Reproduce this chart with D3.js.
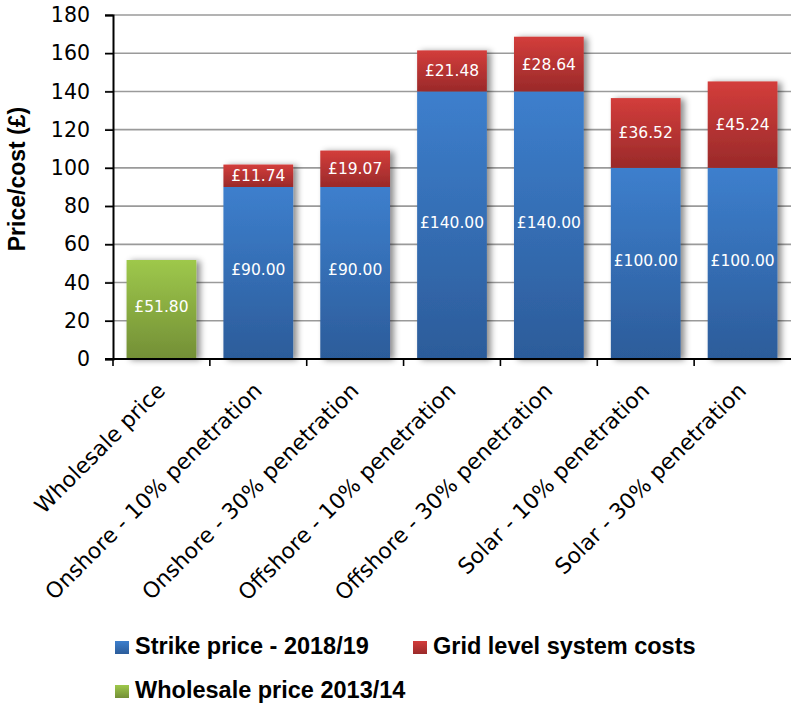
<!DOCTYPE html>
<html>
<head>
<meta charset="utf-8">
<script src="https://cdn.jsdelivr.net/npm/d3@7"></script>
<style>
  html, body { margin: 0; padding: 0; background: #fff; }
  svg { display: block; }
</style>
</head>
<body>
<svg id="chart" width="791" height="707"></svg>
<script>
const categories = [
  "Wholesale price",
  "Onshore - 10% penetration",
  "Onshore - 30% penetration",
  "Offshore - 10% penetration",
  "Offshore - 30% penetration",
  "Solar - 10% penetration",
  "Solar - 30% penetration"
];
const wholesalePrice = [51.80, 0, 0, 0, 0, 0, 0];
const strikePrice = [0, 90.00, 90.00, 140.00, 140.00, 100.00, 100.00];
const gridCosts = [0, 11.74, 19.07, 21.48, 28.64, 36.52, 45.24];
const yTicks = [0, 20, 40, 60, 80, 100, 120, 140, 160, 180];
const seriesNames = ["Strike price - 2018/19", "Grid level system costs", "Wholesale price 2013/14"];

const svg = d3.select("#chart");
const W = 791, H = 707;
const x = d3.scaleBand().domain(categories).range([113, 791]).paddingInner(0.28).paddingOuter(0.14);
const y = d3.scaleLinear().domain([0, 180]).range([359, 15]);

const defs = svg.append("defs");
function grad(id, top, bottom) {
  const g = defs.append("linearGradient").attr("id", id).attr("x1", 0).attr("y1", 0).attr("x2", 0).attr("y2", 1);
  g.append("stop").attr("offset", "0%").attr("stop-color", top);
  g.append("stop").attr("offset", "100%").attr("stop-color", bottom);
}
grad("gBlue", "#3d7fcd", "#2c5c9a");
grad("gRed", "#d33d3b", "#9a2a2a");
grad("gGreen", "#9ec84b", "#738f36");
const f = defs.append("filter").attr("id", "shadow").attr("x", "-20%").attr("y", "-20%").attr("width", "150%").attr("height", "140%");
f.append("feDropShadow").attr("dx", 4).attr("dy", 1).attr("stdDeviation", 3).attr("flood-color", "#000").attr("flood-opacity", 0.45);

// gridlines
svg.append("g").selectAll("line").data(yTicks.filter(d => d > 0)).join("line")
  .attr("x1", 105).attr("x2", W).attr("y1", d => y(d)).attr("y2", d => y(d))
  .attr("stroke", "#9a9a9a").attr("stroke-width", 1.6);

// y axis
const yAxis = svg.append("g").attr("transform", "translate(113,0)")
  .call(d3.axisLeft(y).tickValues(yTicks).tickSize(8).tickPadding(15).tickFormat(d3.format("d")));
yAxis.select(".domain").attr("stroke", "#000").attr("stroke-width", 2);
yAxis.selectAll(".tick line").attr("stroke", "#000").attr("stroke-width", 1.6);
yAxis.selectAll("text").attr("font-family", "DejaVu Sans").attr("font-size", 20.5).attr("fill", "#000");

// bars
const rows = categories.map((c, i) => ({c, w: wholesalePrice[i], s: strikePrice[i], g: gridCosts[i]}));
const bars = svg.append("g");
const fmt = v => "£" + d3.format(".2f")(v);
rows.forEach(r => {
  const bx = x(r.c), bw = x.bandwidth();
  const grp = bars.append("g").attr("filter", "url(#shadow)");
  if (r.w > 0) {
    grp.append("rect").attr("x", bx).attr("width", bw).attr("y", y(r.w)).attr("height", y(0) - y(r.w)).attr("fill", "url(#gGreen)");
  }
  if (r.s > 0) {
    grp.append("rect").attr("x", bx).attr("width", bw).attr("y", y(r.s)).attr("height", y(0) - y(r.s)).attr("fill", "url(#gBlue)");
  }
  if (r.g > 0) {
    grp.append("rect").attr("x", bx).attr("width", bw).attr("y", y(r.s + r.g)).attr("height", y(r.s) - y(r.s + r.g)).attr("fill", "url(#gRed)");
  }
});
// value labels
const lbl = svg.append("g").attr("font-family", "DejaVu Sans").attr("font-size", 15.5).attr("fill", "#fff").attr("text-anchor", "middle");
rows.forEach(r => {
  const cx = x(r.c) + x.bandwidth() / 2;
  if (r.w > 0) lbl.append("text").attr("x", cx).attr("y", (y(0) + y(r.w)) / 2 - 3).attr("dy", "0.35em").text(fmt(r.w));
  if (r.s > 0) lbl.append("text").attr("x", cx).attr("y", (y(0) + y(r.s)) / 2 - 3).attr("dy", "0.35em").text(fmt(r.s));
  if (r.g > 0) lbl.append("text").attr("x", cx).attr("y", (y(r.s) + y(r.s + r.g)) / 2).attr("dy", "0.35em").text(fmt(r.g));
});

// x axis
const xAxisG = svg.append("g").attr("transform", "translate(0,359)");
xAxisG.append("line").attr("x1", 105).attr("x2", W).attr("y1", 0).attr("y2", 0).attr("stroke", "#000").attr("stroke-width", 2);
const bounds = categories.map(c => x(c) - x.step() * x.paddingInner() / 2);
xAxisG.selectAll("line.tk").data(bounds).join("line").attr("class", "tk")
  .attr("x1", d => d).attr("x2", d => d).attr("y1", 0).attr("y2", 7).attr("stroke", "#000").attr("stroke-width", 1.6);
xAxisG.selectAll("text").data(categories).join("text")
  .attr("transform", d => `translate(${x(d) + x.bandwidth() / 2 + 5},33) rotate(-45)`)
  .attr("text-anchor", "end")
  .attr("font-family", "DejaVu Sans").attr("font-size", 21.8).attr("fill", "#000")
  .text(d => d);

// y title
svg.append("text").attr("transform", "translate(25,179) rotate(-90)")
  .attr("text-anchor", "middle").attr("font-family", "Liberation Sans").attr("font-weight", "bold")
  .attr("font-size", 23).attr("fill", "#000").text("Price/cost (£)");

// legend
const legendItems = [
  {name: seriesNames[0], fill: "url(#gBlue)", x: 115, y: 641},
  {name: seriesNames[1], fill: "url(#gRed)", x: 413, y: 641},
  {name: seriesNames[2], fill: "url(#gGreen)", x: 115, y: 685}
];
const lg = svg.append("g");
legendItems.forEach(it => {
  lg.append("rect").attr("x", it.x).attr("y", it.y).attr("width", 14).attr("height", 13).attr("fill", it.fill);
  lg.append("text").attr("x", it.x + 20).attr("y", it.y + 13).attr("font-family", "Liberation Sans").attr("font-weight", "bold")
    .attr("font-size", 23.5).attr("fill", "#000").text(it.name);
});
</script>
</body>
</html>
